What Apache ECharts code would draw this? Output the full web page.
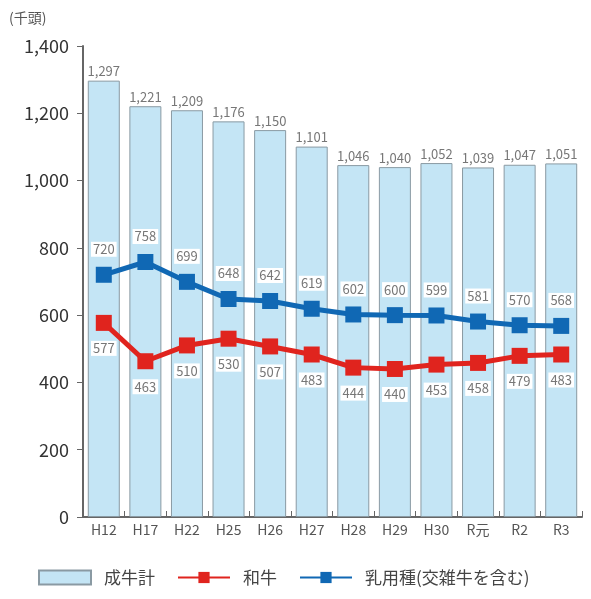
<!DOCTYPE html>
<html>
<head>
<meta charset="utf-8">
<script src="https://cdn.jsdelivr.net/npm/echarts@6/dist/echarts.min.js"></script>
<style>
  html, body { margin: 0; padding: 0; background: #fff; }
  #chart { width: 591px; height: 599px; }
</style>
</head>
<body>
<div id="chart"></div>
<script>
const categories = ['H12', 'H17', 'H22', 'H25', 'H26', 'H27', 'H28', 'H29', 'H30', 'R元', 'R2', 'R3']
const totalCattle = [1297, 1221, 1209, 1176, 1150, 1101, 1046, 1040, 1052, 1039, 1047, 1051]
const wagyu = [577, 463, 510, 530, 507, 483, 444, 440, 453, 458, 479, 483]
const dairy = [720, 758, 699, 648, 642, 619, 602, 600, 599, 581, 570, 568]

const font = '"Noto Sans CJK JP", "Noto Sans", sans-serif'
const textGray = '#555'

const chart = echarts.init(document.getElementById('chart'))

chart.setOption({
  textStyle: { fontFamily: font },
  animation: false,
  title: {
    text: '(千頭)',
    left: 4,
    top: 6,
    textStyle: { fontSize: 14, fontWeight: 'normal', color: textGray, fontFamily: font }
  },
  legend: {
    bottom: 8,
    left: 33,
    itemGap: 22,
    itemWidth: 52,
    itemHeight: 14,
    textStyle: { fontSize: 17, color: '#444', fontFamily: font, padding: [0, 0, 0, 8] },
    data: [
      { name: '成牛計', icon: 'rect' },
      { name: '和牛' },
      { name: '乳用種(交雑牛を含む)' }
    ]
  },
  grid: {
    left: 83,
    right: 9,
    top: 46,
    bottom: 82
  },
  xAxis: {
    type: 'category',
    data: categories,
    axisLine: { lineStyle: { color: '#666', width: 2 } },
    axisTick: { show: true, inside: true, length: 6, lineStyle: { color: '#666' } },
    axisLabel: { color: textGray, fontSize: 14, margin: 6 }
  },
  yAxis: {
    type: 'value',
    min: 0,
    max: 1400,
    interval: 200,
    axisLine: { show: true, lineStyle: { color: '#666', width: 2 } },
    axisTick: { show: true, length: 6, lineStyle: { color: '#666' } },
    splitLine: { show: false },
    axisLabel: {
      color: '#333',
      fontSize: 18,
      margin: 14,
      formatter: v => v.toLocaleString('en-US')
    }
  },
  series: [
    {
      name: '成牛計',
      type: 'bar',
      data: totalCattle,
      barWidth: 32,
      itemStyle: { color: '#c4e5f5', borderColor: '#8a9aa3', borderWidth: 1 },
      label: {
        show: true,
        position: 'top',
        distance: 3,
        color: '#777',
        fontSize: 13,
        formatter: p => p.value.toLocaleString('en-US')
      },
      z: 1
    },
    {
      name: '和牛',
      type: 'line',
      data: wagyu,
      symbol: 'rect',
      symbolSize: 16,
      lineStyle: { color: '#e0241e', width: 5 },
      itemStyle: { color: '#e0241e' },
      label: {
        show: true,
        position: 'bottom',
        distance: 10,
        color: '#777',
        fontSize: 13,
        backgroundColor: '#fff',
        padding: [1, 2]
      },
      z: 3
    },
    {
      name: '乳用種(交雑牛を含む)',
      type: 'line',
      data: dairy,
      symbol: 'rect',
      symbolSize: 16,
      lineStyle: { color: '#1068b4', width: 5 },
      itemStyle: { color: '#1068b4' },
      label: {
        show: true,
        position: 'top',
        distance: 10,
        color: '#777',
        fontSize: 13,
        backgroundColor: '#fff',
        padding: [1, 2]
      },
      z: 3
    }
  ]
})
</script>
</body>
</html>
